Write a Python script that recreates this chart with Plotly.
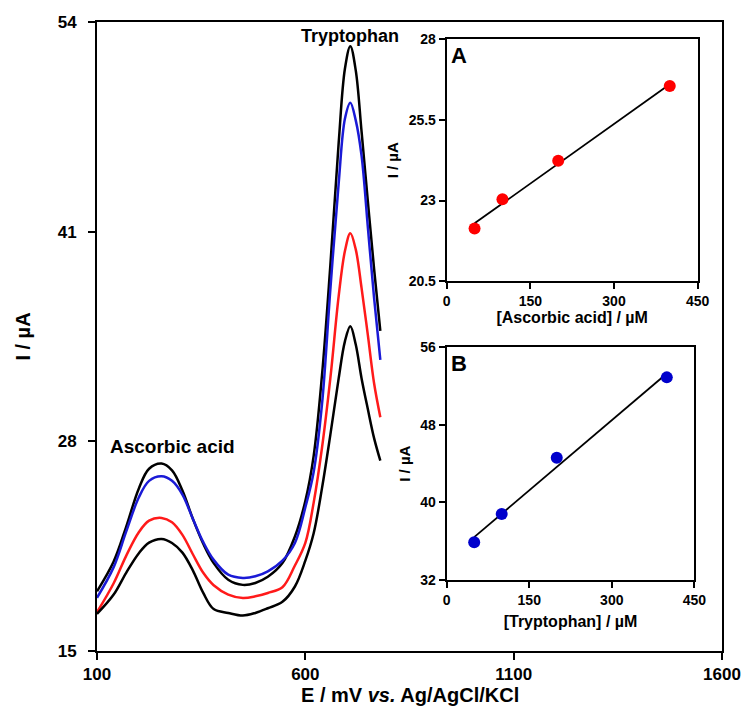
import numpy as np
import plotly.graph_objects as go

# ---------------- data ----------------
E_mV = [100, 140, 170, 200, 225, 255, 280, 305, 330, 355, 380, 415, 450, 480, 510, 545,
        575, 600, 620, 640, 660, 680, 695, 708, 721, 735, 750, 765, 780]

I_top_black = [18.7, 20.55, 22.7, 25.05, 26.3, 26.62, 26.2, 24.95, 23.2, 21.65, 20.45, 19.42, 19.1, 19.22, 19.6, 20.45,
               22.1, 24.3, 27.1, 32.1, 38.9, 46.5, 51.1, 52.5, 51.0, 47.2, 42.9, 38.7, 34.85]
I_blue = [18.3, 20.2, 22.4, 24.5, 25.55, 25.83, 25.55, 24.7, 23.2, 21.75, 20.65, 19.73, 19.53, 19.63, 19.94, 20.6,
          21.7, 23.9, 26.1, 30.3, 37.4, 44.0, 48.0, 49.0, 47.9, 45.7, 41.3, 36.9, 33.05]
I_red = [17.4, 19.2, 20.9, 22.35, 23.08, 23.25, 22.98, 22.2, 21.0, 19.85, 19.08, 18.5, 18.29, 18.39, 18.6, 18.95,
         20.3, 21.7, 24.2, 27.6, 31.9, 37.0, 39.8, 40.9, 39.9, 37.5, 34.6, 31.6, 29.5]
I_bottom_black = [17.3, 18.5, 19.85, 21.05, 21.72, 21.95, 21.7, 21.1, 20.0, 18.6, 17.6, 17.36, 17.2, 17.36, 17.65, 18.05,
                  19.0, 20.6, 22.3, 25.1, 28.4, 31.9, 34.2, 35.13, 34.0, 31.9, 30.0, 28.2, 26.8]

conc_AA = [50, 100, 200, 400]
I_AA = [22.13, 23.04, 24.23, 26.55]
conc_Trp = [50, 100, 200, 400]
I_Trp = [35.9, 38.8, 44.6, 52.9]

main_yticks = [15, 28, 41, 54]
main_xticks = [100, 600, 1100, 1600]
insetA_yticks = [20.5, 23, 25.5, 28]
insetB_yticks = [32, 40, 48, 56]
inset_xticks = [0, 150, 300, 450]

FONT = "Liberation Sans, Arial, sans-serif"

fig = go.Figure()

curves = [(I_top_black, "#000000"), (I_blue, "#1a1ad6"), (I_red, "#ff1a1a"), (I_bottom_black, "#000000")]
for ys, col in curves:
    fig.add_trace(go.Scatter(x=E_mV, y=ys, mode="lines",
                             line=dict(color=col, width=2.5, shape="spline", smoothing=1.0),
                             xaxis="x", yaxis="y", showlegend=False, hoverinfo="skip"))

# inset A
cA = np.polyfit(conc_AA, I_AA, 1)
xA = np.array([min(conc_AA), max(conc_AA)])
fig.add_trace(go.Scatter(x=xA, y=np.polyval(cA, xA), mode="lines",
                         line=dict(color="black", width=1.8), xaxis="x2", yaxis="y2", showlegend=False))
fig.add_trace(go.Scatter(x=conc_AA, y=I_AA, mode="markers",
                         marker=dict(color="#ff0000", size=12), xaxis="x2", yaxis="y2", showlegend=False))
# inset B
cB = np.polyfit(conc_Trp, I_Trp, 1)
xB = np.array([min(conc_Trp), max(conc_Trp)])
fig.add_trace(go.Scatter(x=xB, y=np.polyval(cB, xB), mode="lines",
                         line=dict(color="black", width=1.8), xaxis="x3", yaxis="y3", showlegend=False))
fig.add_trace(go.Scatter(x=conc_Trp, y=I_Trp, mode="markers",
                         marker=dict(color="#0000cc", size=12), xaxis="x3", yaxis="y3", showlegend=False))

axis_common = dict(showgrid=False, zeroline=False, showline=True, mirror=True, automargin=False,
                   linecolor="black", ticks="outside", tickcolor="black")

main_font = dict(family=FONT, size=17, color="black", weight="bold")
inset_font = dict(family=FONT, size=14, color="black", weight="bold")

fig.update_layout(
    width=745, height=707,
    margin=dict(l=97, r=23, t=22, b=56),
    paper_bgcolor="white", plot_bgcolor="white",
    xaxis=dict(axis_common, domain=[0, 1], range=[100, 1600], tickvals=main_xticks,
               ticklen=7, linewidth=2, tickwidth=2, tickfont=main_font, ticklabelstandoff=0),
    yaxis=dict(axis_common, domain=[0, 1], range=[15, 54], tickvals=main_yticks,
               ticklen=7, linewidth=2, tickwidth=2, tickfont=main_font, ticklabelstandoff=8,
               title=dict(text="<b>I / µA</b>", font=dict(family=FONT, size=20, color="black"),
                          standoff=22)),
    xaxis2=dict(axis_common, domain=[0.5595, 0.961], range=[0, 450], tickvals=inset_xticks,
                anchor="y2", ticklen=6, linewidth=2, tickwidth=2, tickfont=inset_font,
                title=dict(text="<b>[Ascorbic acid] / µM</b>", font=dict(family=FONT, size=16, color="black"),
                           standoff=4)),
    yaxis2=dict(axis_common, domain=[0.588, 0.9725], range=[20.5, 28], tickvals=insetA_yticks,
                anchor="x2", ticklen=6, linewidth=2, tickwidth=2, tickfont=inset_font,
                title=dict(text="<b>I / µA</b>", font=dict(family=FONT, size=15, color="black"),
                           standoff=6)),
    xaxis3=dict(axis_common, domain=[0.5595, 0.9557], range=[0, 450], tickvals=inset_xticks,
                anchor="y3", ticklen=6, linewidth=2, tickwidth=2, tickfont=inset_font,
                title=dict(text="<b>[Tryptophan] / µM</b>", font=dict(family=FONT, size=16, color="black"),
                           standoff=9)),
    yaxis3=dict(axis_common, domain=[0.1129, 0.4828], range=[32, 56], tickvals=insetB_yticks,
                anchor="x3", ticklen=6, linewidth=2, tickwidth=2, tickfont=inset_font,
                title=dict(text="<b>I / µA</b>", font=dict(family=FONT, size=15, color="black"),
                           standoff=6)),
    annotations=[
        dict(text="<b>E / mV <i>vs.</i> Ag/AgCl/KCl</b>", x=0.5, y=0, xref="paper", yref="paper",
             xanchor="center", yanchor="middle", yshift=-44, showarrow=False,
             font=dict(family=FONT, size=20, color="black")),
        dict(text="<b>Tryptophan</b>", x=708, y=54, xref="x", yref="y", yanchor="top", yshift=-2,
             showarrow=False, font=dict(family=FONT, size=18, color="black")),
        dict(text="<b>Ascorbic acid</b>", x=126, y=27.7, xref="x", yref="y", xanchor="left", yanchor="middle",
             showarrow=False, font=dict(family=FONT, size=19, color="black")),
        dict(text="<b>A</b>", x=0, y=28, xref="x2", yref="y2", xanchor="left", yanchor="top",
             xshift=2, yshift=-2, showarrow=False, font=dict(family=FONT, size=22, color="black")),
        dict(text="<b>B</b>", x=0, y=56, xref="x3", yref="y3", xanchor="left", yanchor="top",
             xshift=2, yshift=-2, showarrow=False, font=dict(family=FONT, size=22, color="black")),
    ],
)

fig.write_html("out.html")
